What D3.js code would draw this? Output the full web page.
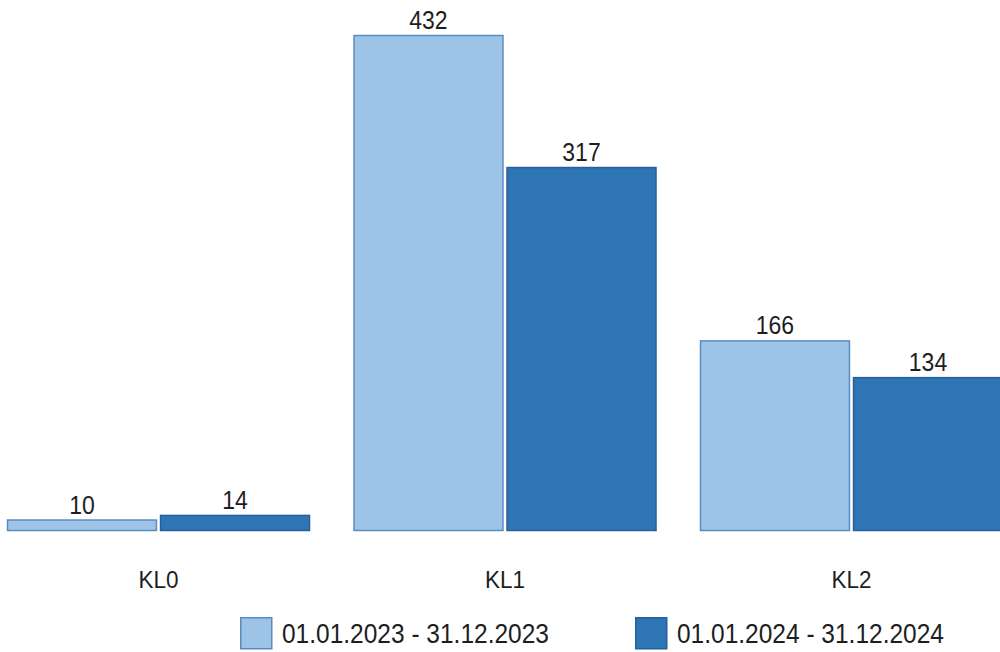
<!DOCTYPE html>
<html><head><meta charset="utf-8">
<script src="https://cdn.jsdelivr.net/npm/d3@7"></script>
<style>html,body{margin:0;padding:0;background:#fff;overflow:hidden}svg{display:block}text{font-family:"Liberation Sans",Arial,sans-serif;fill:#1e1e1e}</style>
</head><body>
<svg id="c" width="1000" height="652"></svg>
<script>
const categories = ["KL0", "KL1", "KL2"];
const seriesNames = ["01.01.2023 - 31.12.2023", "01.01.2024 - 31.12.2024"];
const values2023 = [10, 432, 166];
const values2024 = [14, 317, 134];
const fills = ["#9dc3e6", "#2e75b6"];
const strokes = ["#5b8cc0", "#25609a"];

const svg = d3.select("#c");
const series = [values2023, values2024];

const x0 = d3.scaleBand().domain(categories).range([7, 1003]).paddingInner(0.1255).paddingOuter(0);
const x1 = d3.scaleBand().domain(d3.range(seriesNames.length)).range([0, x0.bandwidth()]).paddingInner(0.02);
const y = d3.scaleLinear().domain([0, 432]).range([531, 35]);

function label(sel, x, y, size, txt, anchor) {
  sel.append("text")
    .attr("transform", `translate(${x},${y}) scale(1,1.1)`)
    .attr("text-anchor", anchor).attr("font-size", size)
    .text(txt);
}

const g = svg.append("g");
categories.forEach((c, ci) => {
  series.forEach((vals, si) => {
    const v = vals[ci];
    const bx = x0(c) + x1(si);
    g.append("rect")
      .attr("x", bx + 0.5).attr("y", y(v) + 0.5)
      .attr("width", x1.bandwidth() - 1).attr("height", y(0) - y(v) - 1)
      .attr("fill", fills[si]).attr("stroke", strokes[si]).attr("stroke-width", 1.5);
    label(g, bx + x1.bandwidth() / 2, y(v) - 6, 23, v, "middle");
  });
  label(g, x0(c) + x0.bandwidth() / 2, 588, 22.5, c, "middle");
});

const legendX = [240, 635];
seriesNames.forEach((s, i) => {
  const lg = svg.append("g").attr("transform", `translate(${legendX[i]},617)`);
  lg.append("rect").attr("x", 0.75).attr("y", 0.75).attr("width", 31).attr("height", 31)
    .attr("fill", fills[i]).attr("stroke", strokes[i]).attr("stroke-width", 1.5);
  label(lg, 42, 26, 24.5, s, "start");
});
</script>
</body></html>
